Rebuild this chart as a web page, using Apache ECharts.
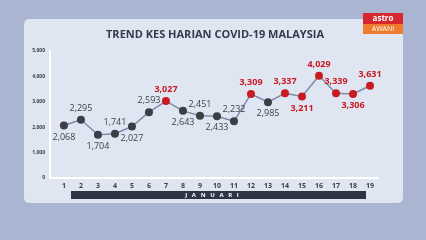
<!DOCTYPE html>
<html><head><meta charset="utf-8">
<script src="https://cdn.jsdelivr.net/npm/echarts@6/dist/echarts.min.js"></script>
<style>html,body{margin:0;padding:0;background:#a9b5d1;}#c{width:426px;height:240px;}</style>
</head><body><div id="c"></div>
<script>
const title = 'TREND KES HARIAN COVID-19 MALAYSIA';
const days = [1,2,3,4,5,6,7,8,9,10,11,12,13,14,15,16,17,18,19];
const cases = [2068,2295,1704,1741,2027,2593,3027,2643,2451,2433,2232,3309,2985,3337,3211,4029,3339,3306,3631];
const labelPos = ['bottom','top','bottom','top','bottom','top','top','bottom','top','bottom','top','top','bottom','top','bottom','top','top','bottom','top'];
const yTicks = [0,1000,2000,3000,4000,5000];
const monthLabel = 'J   A   N   U   A   R   I';
const threshold = 3000;

const RED = '#c81a22', DARK = '#3b3e47';
const chart = echarts.init(document.getElementById('c'), null, {renderer:'canvas'});
const data = days.map((d,i)=>{
  const red = cases[i] >= threshold;
  return {
    value:[d,cases[i]],
    itemStyle:{color: red?RED:DARK},
    label:{position:labelPos[i], color: red?RED:DARK, fontWeight: red?'bold':'normal'}
  };
});
chart.setOption({
  animation:false,
  backgroundColor:'#a9b5d1',
  graphic:[
    {type:'rect', shape:{x:24,y:19,width:379,height:184,r:5}, style:{fill:'#e0e6f1'}, z:-10},
    {type:'rect', shape:{x:71,y:191,width:295,height:8}, style:{fill:'#2d3545'}},
    {type:'text', x:212, y:195, style:{text:monthLabel, fill:'#ffffff', font:'bold 6px "Open Sans"', align:'center', verticalAlign:'middle'}},
    {type:'rect', shape:{x:363,y:13,width:40,height:11}, style:{fill:'#d7262e'}},
    {type:'rect', shape:{x:363,y:24,width:40,height:10}, style:{fill:'#f07b2c'}},
    {type:'text', x:383, y:18.5, style:{text:'astro', fill:'#ffffff', font:'bold 8px "Open Sans"', align:'center', verticalAlign:'middle'}},
    {type:'text', x:383, y:29, style:{text:'AWANI', fill:'#ffffff', font:'7px "Open Sans"', align:'center', verticalAlign:'middle'}}
  ],
  title:{text:title, left:210, top:24, textAlign:'center',
    textStyle:{fontFamily:'Open Sans', fontWeight:'bold', fontSize:11, color:'#333a4a'}},
  grid:{left:50, right:48, top:51, bottom:62},
  xAxis:{type:'value', min:0.18, max:19.47,
    axisLine:{show:true, lineStyle:{color:'#ffffff', width:2}},
    axisTick:{show:false}, splitLine:{show:false},
    axisLabel:{customValues:days, color:DARK, fontFamily:'Open Sans', fontWeight:'bold', fontSize:7, margin:4}
  },
  yAxis:{type:'value', min:0, max:5000, interval:1000,
    axisLine:{show:true, lineStyle:{color:'#ffffff', width:2}},
    axisTick:{show:false}, splitLine:{show:false},
    axisLabel:{color:DARK, fontFamily:'Open Sans', fontWeight:'bold', fontSize:5, margin:5,
      formatter:v=>v.toLocaleString('en-US')}
  },
  series:[{type:'line', data:data, symbol:'circle', symbolSize:8,
    lineStyle:{color:'#7e8aa8', width:1.5},
    label:{show:true, fontFamily:'Open Sans', fontSize:9, distance:3,
      formatter:p=>p.value[1].toLocaleString('en-US')}
  }]
});
</script></body></html>
